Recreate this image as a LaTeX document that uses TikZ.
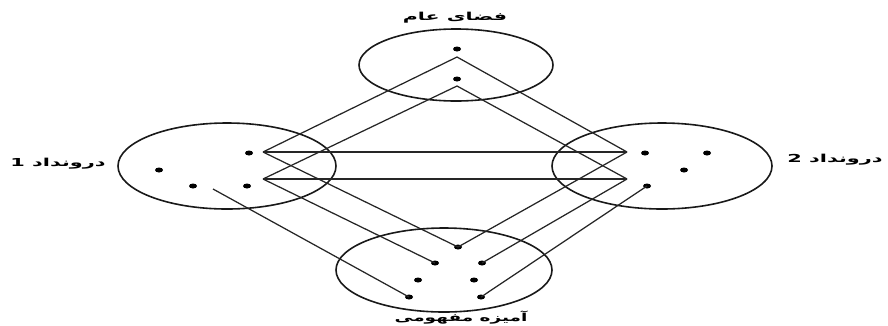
\documentclass[tikz,border=0pt]{standalone}
\usepackage{fontspec}
\usepackage{graphicx}
\usetikzlibrary{shapes.geometric}
\TeXXeTstate=1
\newfontfamily\arabicfont[Script=Arabic]{DejaVu Sans}
\begin{document}
\begin{tikzpicture}[x=1pt,y=-1pt,
  dot/.style={shape=ellipse,fill=black,inner sep=0pt,minimum width=8pt,minimum height=5pt},
  set/.style={draw=black!90,line width=1.6pt},
  link/.style={draw=black!85,line width=1.25pt},
  lab/.style={font=\arabicfont\bfseries\fontsize{11}{13}\selectfont,inner sep=0pt}]
\useasboundingbox (0,0) rectangle (888,325);
% sets
\draw[set] (456,65) ellipse [x radius=97, y radius=36];
\draw[set] (227,166) ellipse [x radius=109, y radius=43];
\draw[set] (662,166) ellipse [x radius=110, y radius=43];
\draw[set] (444,270) ellipse [x radius=108, y radius=42];
% dots top
\node[dot] (t1) at (457,49) {};
\node[dot] (t2) at (457,79) {};
% dots left
\node[dot] (l1) at (249,153) {};
\node[dot] (l2) at (159,170) {};
\node[dot] (l3) at (193,186) {};
\node[dot] (l4) at (247,186) {};
% dots right
\node[dot] (r1) at (645,153) {};
\node[dot] (r2) at (707,153) {};
\node[dot] (r3) at (684,170) {};
\node[dot] (r4) at (647,186) {};
% dots bottom
\node[dot] (b1) at (458,247) {};
\node[dot] (b2) at (435,263) {};
\node[dot] (b3) at (482,263) {};
\node[dot] (b4) at (418,280) {};
\node[dot] (b5) at (474,280) {};
\node[dot] (b6) at (409,297) {};
\node[dot] (b7) at (481,297) {};
% apex points
\coordinate (ta) at (457,57);
\coordinate (tb) at (457,86);
\coordinate (la) at (263,152);
\coordinate (lb) at (263,179);
\coordinate (ra) at (627,152);
\coordinate (rb) at (627,179);
\coordinate (ls) at (213,189);
% connectors
\draw[link] (la) -- (ta) -- (ra);
\draw[link] (lb) -- (tb) -- (rb);
\draw[link] (la) -- (ra);
\draw[link] (lb) -- (rb);
\draw[link] (la) -- (b1.center) -- (ra);
\draw[link] (lb) -- (b2.center);
\draw[link] (rb) -- (b3.center);
\draw[link] (ls) -- (b6.center);
\draw[link] (r4.center) -- (b7.center);
% labels
\node[lab] (nt) at (455,18) {\scalebox{1.87}[1]{\beginR فضای عام\endR}};
\node[lab] (nl) at (58,164) {\scalebox{1.9}[1]{\beginR درونداد 1\endR}};
\node[lab] (nr) at (835,160) {\scalebox{1.9}[1]{\beginR درونداد 2\endR}};
\node[lab] (nb) at (461,318) {\scalebox{1.68}[1]{\beginR آمیزه مفهومی\endR}};
\end{tikzpicture}
\end{document}
